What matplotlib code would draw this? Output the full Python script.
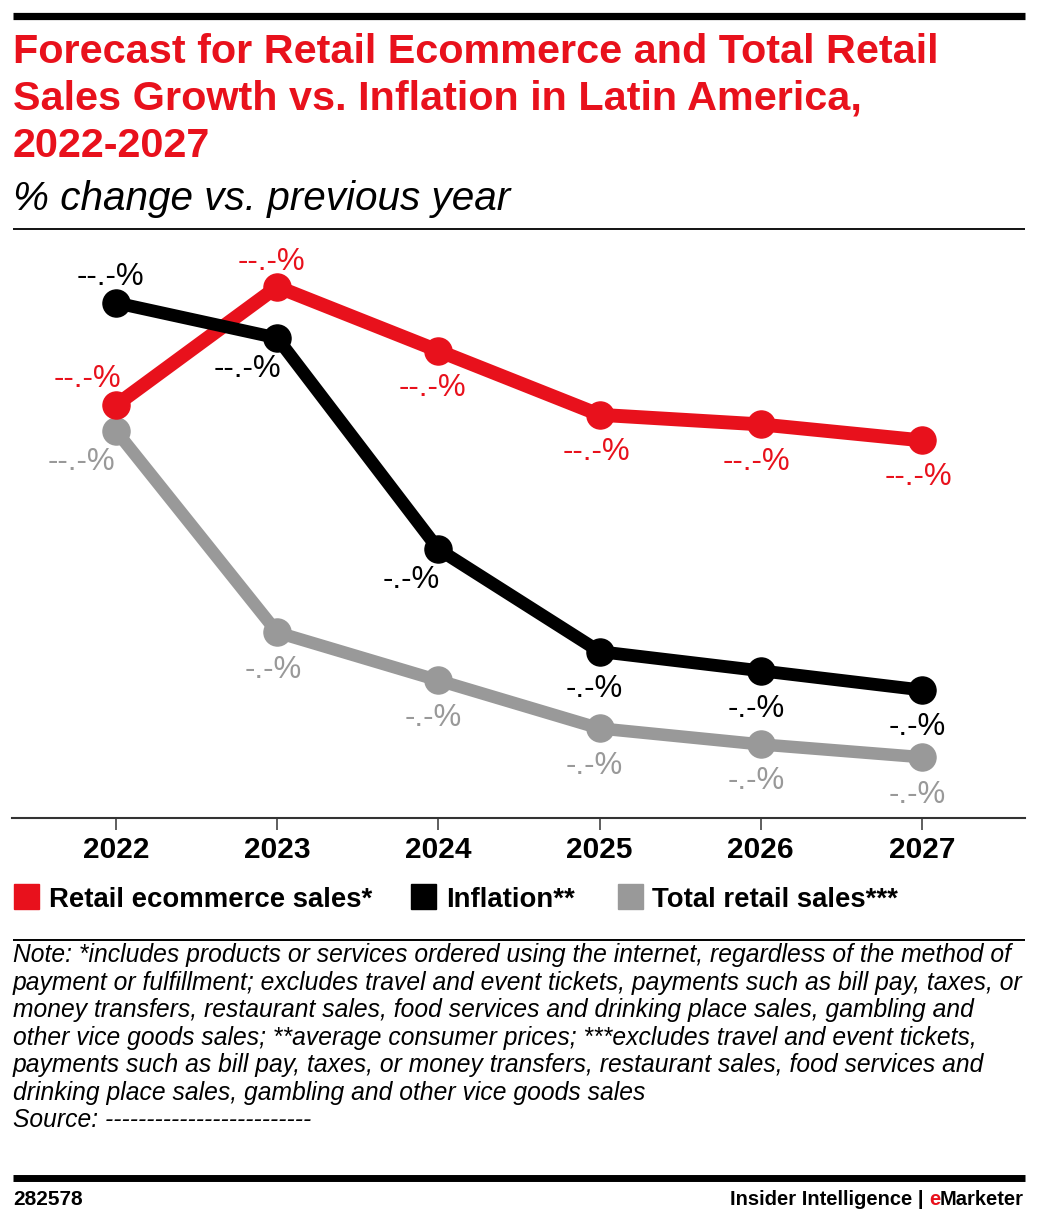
import matplotlib
matplotlib.use("Agg")
import matplotlib.pyplot as plt
from matplotlib.lines import Line2D
from matplotlib.patches import Rectangle

# % change vs. previous year (values are masked in the source)
years = [2022, 2023, 2024, 2025, 2026, 2027]
ecommerce = [12.9, 16.6, 14.6, 12.6, 12.3, 11.8]
inflation = [16.1, 15.0, 8.4, 5.2, 4.6, 4.0]
total_retail = [12.1, 5.8, 4.3, 2.8, 2.3, 1.9]
series_names = ["Retail ecommerce sales*", "Inflation**", "Total retail sales***"]

RED = "#e8111c"
BLACK = "#000000"
GRAY = "#999999"
FONT = "Liberation Sans"

W, H = 1038, 1223
fig = plt.figure(figsize=(W / 100, H / 100), dpi=100)
plt.rcParams["font.family"] = FONT


def fx(x):
    return x / W


def fy(y):
    return 1 - y / H


def hline(y, lw, x0=13, x1=1025, color="black"):
    fig.add_artist(Line2D([fx(x0), fx(x1)], [fy(y), fy(y)], color=color, lw=lw,
                          transform=fig.transFigure, solid_capstyle="butt"))


def masked(v):
    return "--.-%" if v >= 10 else "-.-%"


# header
hline(15.5, 5.2)
title_lines = ["Forecast for Retail Ecommerce and Total Retail",
               "Sales Growth vs. Inflation in Latin America,",
               "2022-2027"]
for i, t in enumerate(title_lines):
    fig.text(fx(13), fy(63 + 47 * i), t, color=RED, fontsize=29.8, fontweight="bold",
             va="baseline", ha="left")
fig.text(fx(13), fy(210), "% change vs. previous year", fontsize=29.2, style="italic",
         va="baseline", ha="left")
hline(228.5, 1.3)

# chart
ax = fig.add_axes([fx(12), fy(818), (1025 - 12) / W, (818 - 235) / H])
ax.set_xlim(2021.355, 2027.639)
ax.set_ylim(0, 583 / 32)

series = [
    (ecommerce, RED, 10.0, 3,
     [(-29, 18), (-6, 17), (-6, -45), (-3, -45), (-4, -46), (-4, -45)]),
    (total_retail, GRAY, 9.0, 2,
     [(-35, -39), (-4, -46), (-5, -46), (-5, -46), (-5, -45), (-5, -46)]),
    (inflation, BLACK, 9.2, 4,
     [(-6, 18), (-30, -39), (-27, -39), (-5, -45), (-5, -46), (-5, -45)]),
]
for vals, col, lw, z, offs in series:
    ax.plot(years, vals, color=col, lw=lw, marker="o", ms=19.5, zorder=z,
            solid_joinstyle="round", solid_capstyle="round")
    for x, v, (dx, dy) in zip(years, vals, offs):
        ax.annotate(masked(v), (x, v), xytext=(dx, dy), textcoords="offset pixels",
                    ha="center", va="baseline", color=col, fontsize=22.5, zorder=5)

for s in ["top", "left", "right"]:
    ax.spines[s].set_visible(False)
ax.spines["bottom"].set_color("#333333")
ax.spines["bottom"].set_linewidth(1.5)
ax.set_yticks([])
ax.set_xticks(years)
ax.set_xticklabels([str(y) for y in years], fontsize=21.5, fontweight="bold")
ax.tick_params(axis="x", length=8.6, width=1.1, color="#333333", pad=4)
ax.patch.set_alpha(0)

# legend
leg_items = [(14, 49, RED), (411, 446, BLACK), (618, 652, GRAY)]
for (sx, tx, col), name in zip(leg_items, series_names):
    fig.add_artist(Rectangle((fx(sx), fy(909)), 25 / W, 25 / H, color=col,
                             transform=fig.transFigure))
    fig.text(fx(tx), fy(907), name, fontsize=19.8, fontweight="bold",
             va="baseline", ha="left")

hline(940, 1.4)

note_lines = [
    "Note: *includes products or services ordered using the internet, regardless of the method of",
    "payment or fulfillment; excludes travel and event tickets, payments such as bill pay, taxes, or",
    "money transfers, restaurant sales, food services and drinking place sales, gambling and",
    "other vice goods sales; **average consumer prices; ***excludes travel and event tickets,",
    "payments such as bill pay, taxes, or money transfers, restaurant sales, food services and",
    "drinking place sales, gambling and other vice goods sales",
    "Source: -------------------------",
]
for i, t in enumerate(note_lines):
    fig.text(fx(13), fy(962 + 27.55 * i), t, fontsize=17.7, style="italic",
             va="baseline", ha="left")

# footer
hline(1178, 5.0)
fig.text(fx(13), fy(1205), "282578", fontsize=15, fontweight="bold",
         va="baseline", ha="left")
r = fig.canvas.get_renderer()
t_end = fig.text(fx(1024), fy(1205), "Marketer", fontsize=14.5, fontweight="bold",
                 va="baseline", ha="right")
x_e = t_end.get_window_extent(r).x0
t_e = fig.text(x_e / W, fy(1205), "e", fontsize=14.5, fontweight="bold", color=RED,
               va="baseline", ha="right")
x_i = t_e.get_window_extent(r).x0
fig.text(x_i / W, fy(1205), "Insider Intelligence | ", fontsize=14.5, fontweight="bold",
         va="baseline", ha="right")

fig.savefig("out.png", dpi=100)
